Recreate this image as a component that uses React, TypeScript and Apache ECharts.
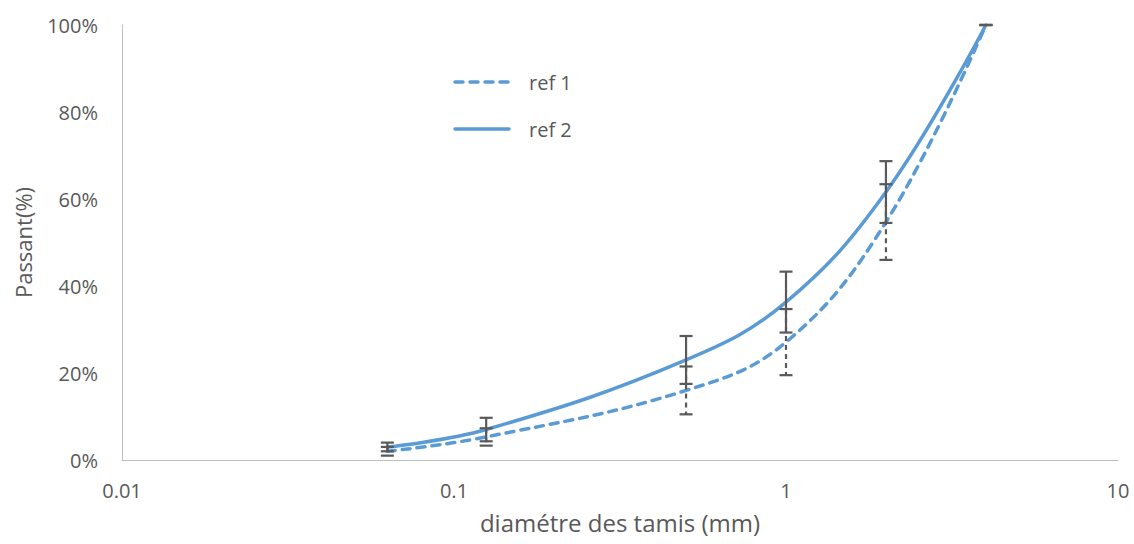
import React, { useEffect, useRef } from "react";
import * as echarts from "echarts";

const sieves = [0.063, 0.125, 0.5, 1, 2, 4];
const ref1 = [2.0, 5.3, 16.0, 27.1, 54.7, 100];
const ref2 = [3.0, 7.0, 23.0, 36.3, 61.6, 100];
const ref1Err = [1.0, 2.0, 5.5, 7.6, 8.7, 0];
const ref2Err = [1.0, 2.7, 5.5, 7.0, 7.1, 0];
const xTicks = [0.01, 0.1, 1, 10];
const yTicks = [0, 20, 40, 60, 80, 100];
const legendNames = ["ref 1", "ref 2"];

const BLUE = "#5B9BD5";
const GRAY = "#595959";
const FONT = "Open Sans";
const DASH = [8, 7];

function errorSeries(name: string, vals: number[], errs: number[], dashed: boolean) {
  const data = sieves.map((x, i) => [x, vals[i], errs[i]]);
  return {
    type: "custom",
    name: name + "-err",
    z: 10,
    silent: true,
    data,
    renderItem: (params: any, api: any) => {
      const x = api.value(0);
      const y = api.value(1);
      const e = api.value(2);
      const top = api.coord([x, Math.min(100, y + e)]);
      const bot = api.coord([x, y - e]);
      const hw = 6.5;
      const style = {
        stroke: GRAY,
        lineWidth: 2.2,
        lineDash: dashed ? [5, 4] : null,
      };
      const capStyle = { stroke: GRAY, lineWidth: 2.2 };
      return {
        type: "group",
        children: [
          { type: "line", shape: { x1: top[0], y1: top[1], x2: bot[0], y2: bot[1] }, style },
          { type: "line", shape: { x1: top[0] - hw, y1: top[1], x2: top[0] + hw, y2: top[1] }, style: capStyle },
          { type: "line", shape: { x1: bot[0] - hw, y1: bot[1], x2: bot[0] + hw, y2: bot[1] }, style: capStyle },
        ],
      };
    },
  };
}

function legendGraphic() {
  const ys = [82, 129];
  const children: any[] = [];
  legendNames.forEach((n, i) => {
    children.push({
      type: "line",
      shape: { x1: 455, y1: ys[i], x2: 509, y2: ys[i] },
      style: { stroke: BLUE, lineWidth: 3.5, lineCap: "round", lineDash: i === 0 ? DASH : null },
    });
    children.push({
      type: "text",
      x: 529,
      y: ys[i],
      style: { text: n, fill: GRAY, fontSize: 20, fontFamily: FONT, verticalAlign: "middle", align: "left" },
    });
  });
  return children;
}

export default function App() {
  const ref = useRef<HTMLDivElement>(null);
  useEffect(() => {
    const chart = echarts.init(ref.current!, null, { renderer: "svg" });
    chart.setOption({
      animation: false,
      textStyle: { fontFamily: FONT },
      grid: { left: 122, right: 16, top: 25, bottom: 84 },
      graphic: legendGraphic(),
      xAxis: {
        type: "log",
        logBase: 10,
        min: xTicks[0],
        max: xTicks[xTicks.length - 1],
        name: "diamétre des tamis (mm)",
        nameLocation: "middle",
        nameGap: 50,
        nameTextStyle: { color: GRAY, fontSize: 24, fontFamily: FONT },
        axisLine: { lineStyle: { color: "#BFBFBF", width: 1 } },
        axisTick: { show: false },
        splitLine: { show: false },
        axisLabel: {
          color: GRAY,
          fontSize: 20,
          margin: 20,
          formatter: (v: number) => String(parseFloat(v.toPrecision(3))),
        },
      },
      yAxis: {
        type: "value",
        min: yTicks[0],
        max: yTicks[yTicks.length - 1],
        interval: 20,
        name: "Passant(%)",
        nameLocation: "middle",
        nameGap: 88,
        nameTextStyle: { color: GRAY, fontSize: 22, fontFamily: FONT },
        axisLine: { show: true, lineStyle: { color: "#BFBFBF", width: 1 } },
        axisTick: { show: false },
        splitLine: { show: false },
        axisLabel: { color: GRAY, fontSize: 20, margin: 24, formatter: "{value}%" },
      },
      series: [
        {
          name: "ref 1",
          type: "line",
          smooth: 0.4,
          symbol: "none",
          data: sieves.map((x, i) => [x, ref1[i]]),
          lineStyle: { color: BLUE, width: 3.5, type: DASH, cap: "round" },
          itemStyle: { color: BLUE },
        },
        {
          name: "ref 2",
          type: "line",
          smooth: 0.4,
          symbol: "none",
          data: sieves.map((x, i) => [x, ref2[i]]),
          lineStyle: { color: BLUE, width: 3.5 },
          itemStyle: { color: BLUE },
        },
        errorSeries("ref 1", ref1, ref1Err, true),
        errorSeries("ref 2", ref2, ref2Err, false),
      ],
    });
    return () => chart.dispose();
  }, []);
  return <div ref={ref} style={{ width: 1134, height: 544, position: "absolute", left: 0, top: 0 }} />;
}
